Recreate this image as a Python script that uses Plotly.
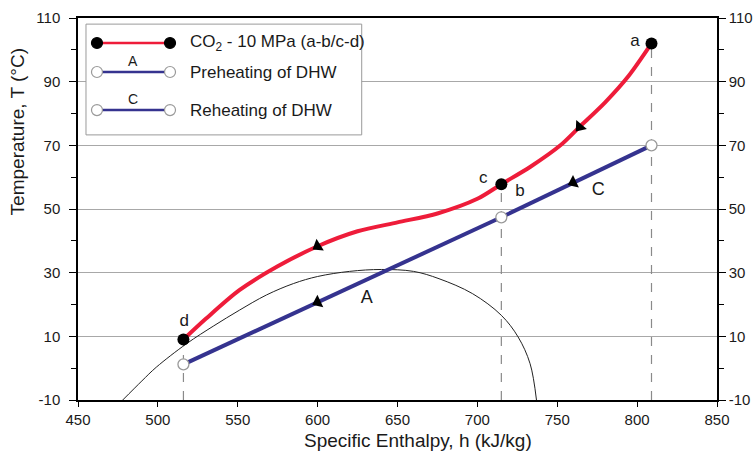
import plotly.graph_objects as go

# ---- data ----
co2_h = [516, 530, 551, 575, 600, 625, 650, 675, 700, 715, 733, 752, 764, 780, 795, 809]
co2_T = [9.0, 15.5, 24.5, 32.0, 38.3, 43.0, 45.8, 48.6, 53.2, 57.8, 63.2, 70.0, 75.8, 83.5, 92.0, 102.0]

pre_h = [516, 715]          # A : preheating of DHW
pre_T = [1.2, 47.4]
re_h = [715, 809]           # C : reheating of DHW
re_T = [47.4, 70.0]

dome_h = [478, 490, 499, 518, 535, 551, 568, 585, 600, 620, 640, 660, 676, 697, 715, 725.5, 733, 737]
dome_T = [-10, -4.0, 0.3, 7.7, 13.3, 18.2, 23.0, 26.6, 28.8, 30.4, 31.0, 30.4, 28.1, 23.4, 16.6, 9.8, 1.4, -10]

state_labels = ["a", "b", "c", "d"]
state_h = [809, 715, 715, 516]
state_T = [102.0, 47.4, 57.8, 9.0]
label_pos_h = [798.6, 726.6, 703.6, 516.5]
label_pos_T = [102.5, 55.4, 59.6, 14.6]

arrow_h = [600, 764]        # arrows on CO2 curve
arrow_T = [38.3, 75.8]
arrow_w_h = [600, 760]      # arrows on water line
arrow_w_T = [20.7, 58.3]

seg_labels = ["A", "C"]
seg_h = [630.7, 775.6]
seg_T = [21.9, 55.9]

x_ticks = [450, 500, 550, 600, 650, 700, 750, 800, 850]
y_ticks = [-10, 10, 30, 50, 70, 90, 110]
y_ticktext = ["-10", "10", "30", "50", "70", "90", "110"]

RED = "#ee1c3a"
BLUE = "#35338f"
FONT = "Liberation Sans, Arial, sans-serif"
TXT = "#1a1a1a"

fig = go.Figure()

# dashed verticals
for h, T in [(516, 9.0), (715, 57.8), (809, 102.0)]:
    fig.add_trace(go.Scatter(x=[h, h], y=[-10, T], mode="lines",
                             line=dict(color="#8a8a8a", width=1.2, dash="dash"),
                             showlegend=False, hoverinfo="skip"))

# saturation dome
fig.add_trace(go.Scatter(x=dome_h, y=dome_T, mode="lines",
                         line=dict(color="#222222", width=1, shape="spline", smoothing=1.0),
                         showlegend=False))

# water lines
fig.add_trace(go.Scatter(x=pre_h, y=pre_T, mode="lines",
                         line=dict(color=BLUE, width=4), showlegend=False))
fig.add_trace(go.Scatter(x=re_h, y=re_T, mode="lines",
                         line=dict(color=BLUE, width=4), showlegend=False))

# CO2 curve
fig.add_trace(go.Scatter(x=co2_h, y=co2_T, mode="lines",
                         line=dict(color=RED, width=4, shape="spline", smoothing=0.8),
                         showlegend=False))

# arrows
fig.add_trace(go.Scatter(x=arrow_h, y=arrow_T, mode="markers",
                         marker=dict(symbol="triangle-up", size=12, color="black",
                                     angle=[-122, -140]),
                         showlegend=False))
fig.add_trace(go.Scatter(x=arrow_w_h, y=arrow_w_T, mode="markers",
                         marker=dict(symbol="triangle-up", size=12, color="black",
                                     angle=[-115, -115]),
                         showlegend=False))

# state points
fig.add_trace(go.Scatter(x=[state_h[0], state_h[2], state_h[3]],
                         y=[state_T[0], state_T[2], state_T[3]], mode="markers",
                         marker=dict(size=12, color="black"), showlegend=False))
fig.add_trace(go.Scatter(x=[516, 715, 809], y=[1.2, 47.4, 70.0], mode="markers",
                         marker=dict(size=11, color="white", line=dict(color="#9a9a9a", width=1.3)),
                         showlegend=False))

# point labels
fig.add_trace(go.Scatter(x=label_pos_h, y=label_pos_T, mode="text", text=state_labels,
                         textfont=dict(family=FONT, size=17, color=TXT),
                         showlegend=False))
fig.add_trace(go.Scatter(x=seg_h, y=seg_T, mode="text", text=seg_labels,
                         textfont=dict(family=FONT, size=18, color=TXT),
                         showlegend=False))

# right axis carrier
fig.add_trace(go.Scatter(x=[450], y=[-10], yaxis="y2", mode="markers",
                         marker=dict(opacity=0), showlegend=False, hoverinfo="skip"))

# ---- custom legend (paper coords) ----
shapes = []
annotations = []
shapes.append(dict(type="rect", xref="paper", yref="paper", x0=0.0125, x1=0.444, y0=0.694, y1=0.984,
                   line=dict(color="#9a9a9a", width=1), fillcolor="white", layer="above"))
leg_rows = [(0.9346, RED, "black", "black", "CO<sub>2</sub> - 10 MPa (a-b/c-d)", None),
            (0.8586, BLUE, "white", "#9a9a9a", "Preheating of DHW", "A"),
            (0.7590, BLUE, "white", "#9a9a9a", "Reheating of DHW", "C")]
xl0, xl1 = 0.0297, 0.144
rx = 5.5 / 639
ry = 5.5 / 382
for y, lc, mfill, mline, txt, lab in leg_rows:
    shapes.append(dict(type="line", xref="paper", yref="paper", x0=xl0, x1=xl1, y0=y, y1=y,
                       line=dict(color=lc, width=2.5), layer="above"))
    for xc in (xl0, xl1):
        shapes.append(dict(type="circle", xref="paper", yref="paper",
                           x0=xc - rx, x1=xc + rx, y0=y - ry, y1=y + ry,
                           fillcolor=mfill, line=dict(color=mline, width=1.2), layer="above"))
    annotations.append(dict(xref="paper", yref="paper", x=0.172, y=y, text=txt, showarrow=False,
                            xanchor="left", yanchor="middle",
                            font=dict(family=FONT, size=17, color=TXT)))
    if lab:
        annotations.append(dict(xref="paper", yref="paper", x=(xl0 + xl1) / 2, y=y + 0.003,
                                text=lab, showarrow=False, xanchor="center", yanchor="bottom",
                                font=dict(family=FONT, size=14, color=TXT)))

# axis titles (placed as in the reference, which is not centred on the axes)
annotations.append(dict(xref="paper", yref="paper", x=0.532, y=-0.105,
                        text="Specific Enthalpy, h (kJ/kg)", showarrow=False,
                        xanchor="center", yanchor="middle",
                        font=dict(family=FONT, size=19, color=TXT)))
annotations.append(dict(xref="paper", yref="paper", x=-0.094, y=0.703,
                        text="Temperature, T (°C)", showarrow=False, textangle=-90,
                        xanchor="center", yanchor="middle",
                        font=dict(family=FONT, size=19, color=TXT)))

axis_common = dict(showline=True, linecolor="black", linewidth=1.5, ticks="outside",
                   tickcolor="black", tickfont=dict(family=FONT, size=15, color=TXT),
                   zeroline=False, automargin=False)

fig.update_layout(
    width=755, height=459,
    margin=dict(l=78, r=38, t=18, b=59),
    paper_bgcolor="white", plot_bgcolor="white",
    showlegend=False,
    xaxis=dict(range=[450, 850], tickvals=x_ticks, ticklen=5, showgrid=False, mirror=True,
               **axis_common),
    yaxis=dict(range=[-10, 110], tickvals=y_ticks, ticktext=y_ticktext, ticklen=7, showgrid=True,
               gridcolor="#a8a8a8", gridwidth=1, ticklabelstandoff=6,
               minor=dict(tickvals=[0, 20, 40, 60, 80, 100], ticklen=5, ticks="outside",
                          tickcolor="black", showgrid=False),
               **axis_common),
    yaxis2=dict(range=[-10, 110], tickvals=y_ticks, ticktext=y_ticktext, ticklen=7, showgrid=False,
                overlaying="y", side="right",
                minor=dict(tickvals=[0, 20, 40, 60, 80, 100], ticklen=5, ticks="outside",
                           tickcolor="black", showgrid=False),
                **axis_common),
    shapes=shapes,
    annotations=annotations,
)

# remove the browser's default 8px body margin so the figure fills the window exactly
fig.write_html("out.html", config={"displayModeBar": False},
               post_script="document.body.style.margin='0';document.body.style.overflow='hidden';")
